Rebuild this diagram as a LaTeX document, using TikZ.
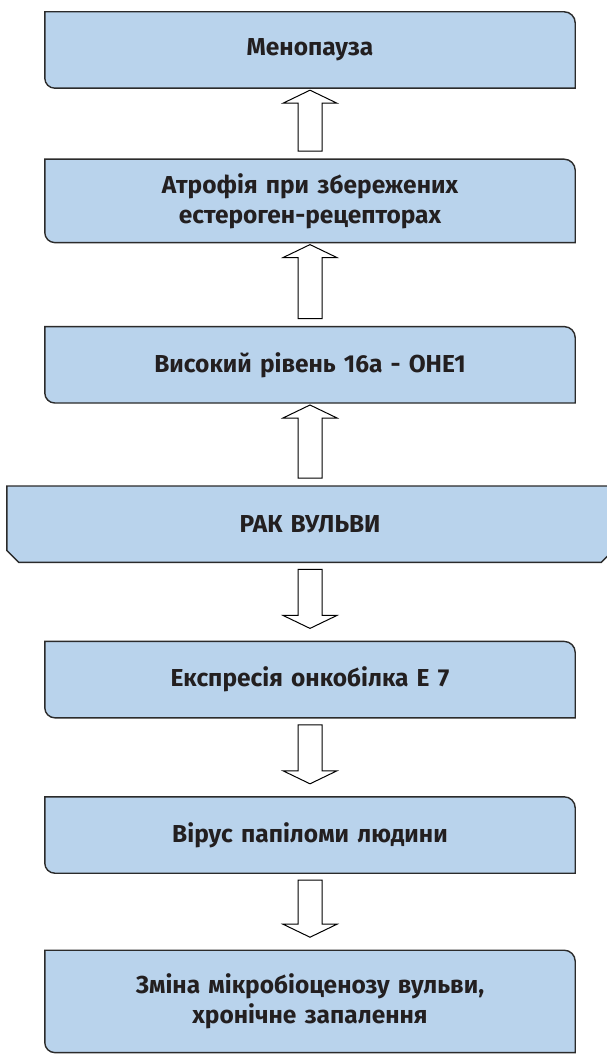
\documentclass[tikz,border=0pt]{standalone}
\usepackage{fontspec}
\setmainfont{Fira Sans}
\usetikzlibrary{positioning, calc, backgrounds}
\definecolor{boxblue}{HTML}{B9D3EC}
\definecolor{boxedge}{HTML}{2B2B2B}
\definecolor{ink}{HTML}{231F20}

\begin{document}
\begin{tikzpicture}[font=\bfseries\fontsize{24.5}{30}\selectfont]
\tikzstyle{block} = [rectangle, text width=500pt, align=center, text=ink,
    minimum width=530pt, minimum height=76pt, inner sep=0pt]
\tikzstyle{wide} = [block, minimum width=606pt]
\tikzstyle{outline} = [draw=boxedge, fill=boxblue, line width=1.4pt]
\tikzstyle{hollow} = [draw=black, line width=1pt, line join=miter,
    to path={-- ($(\tikztostart)!12pt!-90:(\tikztotarget)$)
    -- ($($(\tikztotarget)!13pt!(\tikztostart)$)!12pt!-90:(\tikztotarget)$)
    -- ($($(\tikztotarget)!13pt!(\tikztostart)$)!27pt!-90:(\tikztotarget)$)
    -- (\tikztotarget)
    -- ($($(\tikztotarget)!13pt!(\tikztostart)$)!27pt!90:(\tikztotarget)$)
    -- ($($(\tikztotarget)!13pt!(\tikztostart)$)!12pt!90:(\tikztotarget)$)
    -- ($(\tikztostart)!12pt!90:(\tikztotarget)$) -- cycle}]

 \useasboundingbox (0,0) rectangle (606pt,-1056pt);

 \node [block] (meno) at (310pt,-50pt) {Менопауза};
 \node [block, minimum height=83pt, below=71pt of meno] (atro) {Атрофія при збережених\\естероген-рецепторах};
 \node [block, below=84pt of atro] (ohe) {Високий рівень 16а - ОНЕ1};
 \node [wide, below=83pt of ohe] (rak) {РАК ВУЛЬВИ};
 \node [block, below=79pt of rak] (expr) {Експресія онкобілка Е 7};
 \node [block, below=79pt of expr] (vph) {Вірус папіломи людини};
 \node [block, minimum height=102pt, below=77pt of vph] (micro) {Зміна мікробіоценозу вульви,\\хронічне запалення};

 \begin{scope}[on background layer]
 \foreach \n in {meno, atro, ohe, expr, vph, micro}
   \draw [outline] (\n.north west) -- ([xshift=-11pt]\n.north east)
     arc [start angle=90, end angle=0, radius=11pt] -- (\n.south east)
     -- ([xshift=10pt]\n.south west)
     arc [start angle=270, end angle=180, radius=10pt] -- cycle;
 \draw [outline] (rak.north west) -- (rak.north east)
   -- ([yshift=12pt]rak.south east) -- ([xshift=-12pt]rak.south east)
   -- ([xshift=12pt]rak.south west) -- ([yshift=12pt]rak.south west) -- cycle;
 \end{scope}

 \path [hollow] ([yshift=8pt]atro.north) to ([yshift=-2pt]meno.south);
 \path [hollow] ([yshift=8pt]ohe.north) to ([yshift=-2pt]atro.south);
 \path [hollow] ([yshift=8pt]rak.north) to ([yshift=-2pt]ohe.south);
 \path [hollow] ([yshift=-7pt]rak.south) to ([yshift=13pt]expr.north);
 \path [hollow] ([yshift=-7pt]expr.south) to ([yshift=13pt]vph.north);
 \path [hollow] ([yshift=-7pt]vph.south) to ([yshift=13pt]micro.north);
\end{tikzpicture}
\end{document}
